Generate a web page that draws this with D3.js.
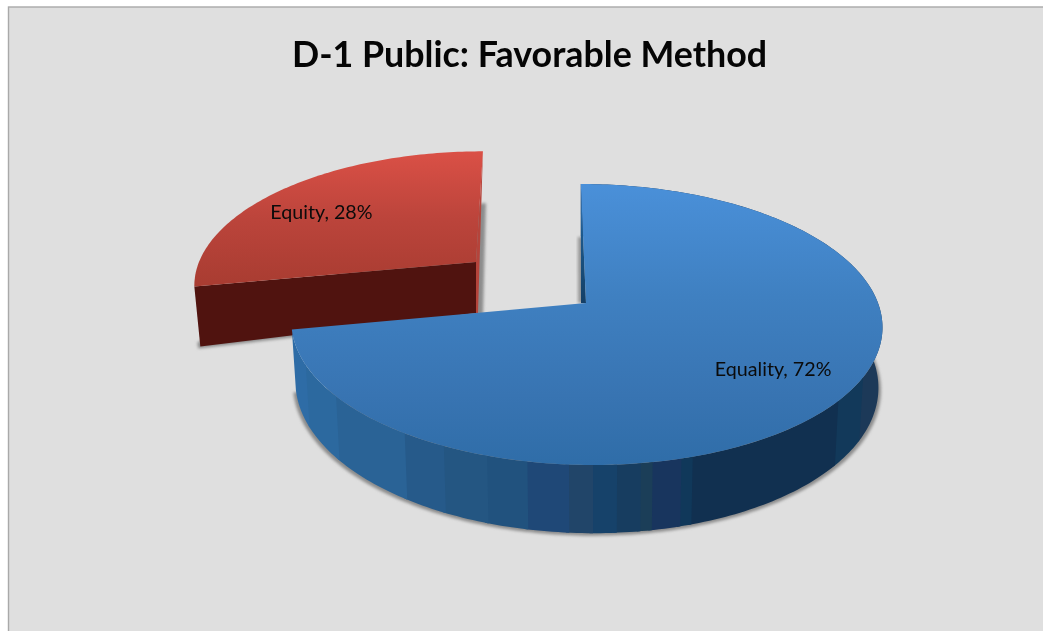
<!DOCTYPE html>
<html><head><meta charset="utf-8">
<script src="https://cdn.jsdelivr.net/npm/d3@7"></script>
<style>html,body{margin:0;padding:0;background:#fff;overflow:hidden}svg{display:block;filter:blur(0.45px)}</style>
</head><body><div id="chart"></div>
<script>
const title = "D-1 Public: Favorable Method";
const categories = ["Equality", "Equity"];
const shares = [72, 28];
const wallBandAngles = [120,130,163,165,170,172,176,180,184,191,198,206,214,232,245];
const wallBandColors = ["#1c3958","#12395a","#113050","#10385a","#18355e","#1b3e58","#173d60","#16426a","#214569","#1f4877","#21527e","#245682","#265a8a","#2a6396","#2c699f","#2e6ca6"];

const W = 1043, H = 631;
const svg = d3.select("#chart").append("svg").attr("width", W).attr("height", H);
const defs = svg.append("defs");

function grad(id, y1, y2, stops) {
  const g = defs.append("linearGradient").attr("id", id).attr("gradientUnits", "userSpaceOnUse")
    .attr("x1", 0).attr("x2", 0).attr("y1", y1).attr("y2", y2);
  stops.forEach(s => g.append("stop").attr("offset", s[0]).attr("stop-color", s[1]));
}
grad("blueTop", 184, 466, [[0,"#4a90d9"],[0.4,"#3f80c1"],[0.75,"#3874b2"],[1,"#2f6da8"]]);
grad("redTop", 152, 288, [[0,"#da5046"],[0.5,"#bb443b"],[1,"#a83c31"]]);
grad("blueStrip", 184, 303, [[0,"#3f80c4"],[0.4,"#1d5a8e"],[1,"#143f66"]]);
defs.append("filter").attr("id", "soft").attr("x", "-10%").attr("y", "-10%").attr("width", "120%").attr("height", "120%")
  .append("feGaussianBlur").attr("stdDeviation", 1.4);

// Projection of the unit disc into the tilted picture plane
function projector(cx, cy, a, b, c, k) {
  return (theta, r = 1) => {
    const u = r * Math.sin(theta), v = r * Math.cos(theta), w = 1 + k * v;
    return [cx + (a * u + c * v) / w, cy - b * v / w];
  };
}
const blueTop = projector(586, 303, 292, 137.2, -6, 0.153);
const blueBottom = projector(586, 362, 288, 145, -6, 0.153);
const blueShadow = projector(586, 364.5, 290.5, 145, -6, 0.153);
const redTop = projector(476, 262, 277, 127.6, 8, 0.153);

const pie = d3.pie().sort(null)(shares);
const [blue, red] = pie;
const line = d3.line();
const deg = Math.PI / 180;
const arcPts = (proj, s, e) => {
  const n = Math.max(1, Math.ceil((e - s) / deg));
  return d3.range(n + 1).map(i => proj(s + (e - s) * i / n));
};
const sector = (proj, s, e) => line([proj(0, 0), ...arcPts(proj, s, e)]) + "Z";

// frame
svg.append("rect").attr("x", 8.5).attr("y", 7).attr("width", W).attr("height", H)
  .attr("fill", "#dfdfdf").attr("stroke", "#a9a9a9").attr("stroke-width", 1.4);

// --- exploded slice ---
const rTip = redTop(red.startAngle), rBack = redTop(red.endAngle), rA = redTop(0, 0);
const rWall = 51, rWallTip = 60;
svg.append("path").attr("filter", "url(#soft)").attr("fill", "#8c8c8c")
  .attr("d", line([[rBack[0] - 1, rBack[1] + 52], [rBack[0] + 3, rBack[1] + 52], [rA[0] + 7, rA[1] + rWall + 2], [rTip[0] + 4, rTip[1] + rWallTip + 2], [rTip[0] + 3, rTip[1] + 56]]) + "Z");
svg.append("path").attr("fill", "#50130f")
  .attr("d", line([rTip, [rTip[0] + 6, rTip[1] + rWallTip], [rA[0], rA[1] + rWall], rA]) + "Z");
svg.append("path").attr("fill", "#b5443b")
  .attr("d", line([rBack, [rA[0] + 2, rA[1] + rWall], [rA[0], rA[1] + rWall], rA]) + "Z");
svg.append("path").attr("fill", "url(#redTop)").attr("d", sector(redTop, red.startAngle, red.endAngle));

// --- main slice ---
const bBack = blueTop(0), bA = blueTop(0, 0);
svg.append("path").attr("filter", "url(#soft)").attr("fill", "#8c8c8c")
  .attr("d", sector(blueShadow, 20 * deg, blue.endAngle));
svg.append("path").attr("filter", "url(#soft)").attr("fill", "#999")
  .attr("d", line([[bBack[0] - 3, bBack[1] + 53], [bA[0] - 8, bA[1]], [bA[0], bA[1]], [bBack[0] + 3, bBack[1] + 53]]) + "Z");

// wall: one polygon per colour band
const edges = [0, ...wallBandAngles.map(a => a * deg), blue.endAngle];
const bands = d3.pairs(edges).map(([s, e], i) => ({ s, e, color: wallBandColors[i] }));
svg.append("g").selectAll("path").data(bands).join("path")
  .attr("d", b => {
    const e2 = Math.min(b.e + 0.6 * deg, blue.endAngle);
    return line([...arcPts(blueTop, b.s, e2), ...arcPts(blueBottom, b.s, e2).reverse()]) + "Z";
  })
  .attr("fill", b => b.color);

svg.append("path").attr("fill", "url(#blueStrip)")
  .attr("d", line([bBack, bA, [bA[0] - 5, bA[1]]]) + "Z");
svg.append("path").attr("fill", "url(#blueTop)").attr("d", sector(blueTop, blue.startAngle, blue.endAngle));

// labels
const labelFor = (proj, d, dx, dy) => {
  const p = proj((d.startAngle + d.endAngle) / 2, 0.75);
  return [p[0] + dx, p[1] + dy];
};
[[blueTop, blue, 2, -5], [redTop, red, -9, 7]].forEach(([proj, d, dx, dy]) => {
  const p = labelFor(proj, d, dx, dy);
  svg.append("text").attr("x", p[0]).attr("y", p[1]).attr("dy", "0.35em").attr("text-anchor", "middle")
    .attr("font-family", "Lato, 'Open Sans', sans-serif").attr("font-size", 19.7).attr("fill", "#0b0b0b")
    .text(`${categories[d.index]}, ${d.value}%`);
});

svg.append("text").attr("x", 529.5).attr("y", 67).attr("text-anchor", "middle")
  .attr("font-family", "Lato, 'Open Sans', sans-serif").attr("font-weight", 700).attr("font-size", 35.8)
  .attr("fill", "#050505").text(title);
</script></body></html>
